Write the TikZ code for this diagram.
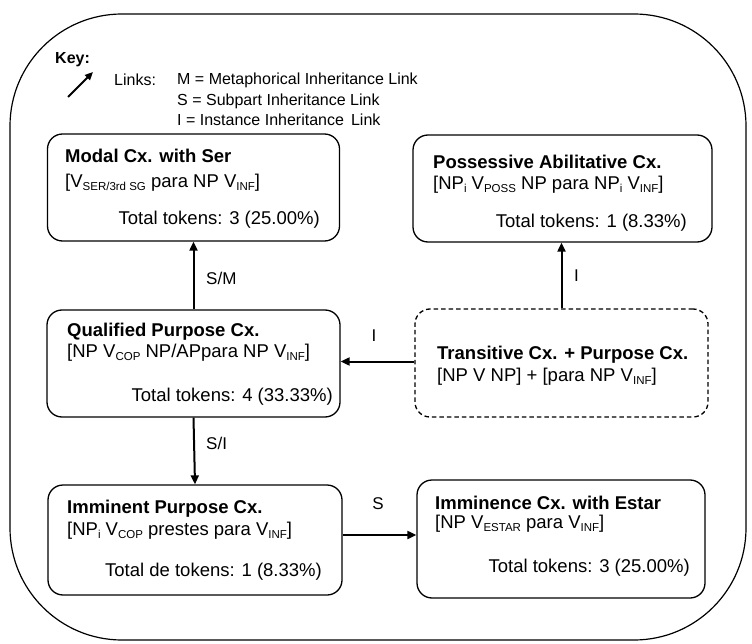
\documentclass[tikz,border=0pt]{standalone}
\usepackage{fontspec}
\setmainfont{Liberation Sans}
\usetikzlibrary{arrows.meta}
\newcommand\sbs[1]{\raisebox{-0.3ex}{\fontsize{11.5}{12}\selectfont #1}}
\begin{document}
\begin{tikzpicture}[x=1pt,y=-1pt,
  cxbox/.style={draw,line width=1.3pt,rounded corners=15pt,inner sep=0pt},
  txt/.style={inner sep=0pt,font=\fontsize{18.5}{22}\selectfont},
  ttl/.style={txt,font=\fontsize{18.5}{22}\selectfont\bfseries},
  keytxt/.style={inner sep=0pt,anchor=west,font=\fontsize{16}{19}\selectfont},
  lnk/.style={line width=2pt,-{Triangle[length=9pt,width=8pt]}},
  lbl/.style={inner sep=0pt,font=\fontsize{17}{20}\selectfont}]
\useasboundingbox (0,0) rectangle (752,644);

% outer frame
\draw[line width=1.2pt,rounded corners=112pt] (10,14) rectangle (746,640);

% key
\node[keytxt,font=\fontsize{16}{19}\selectfont\bfseries] (keyhead) at (55,60) {Key:};
\coordinate (keytail) at (68,97);
\coordinate (keytip) at (93,72);
\draw[line width=1.8pt,-{Triangle[length=8pt,width=7pt]}] (keytail) -- (keytip);
\node[keytxt] (keylinks) at (114,80) {Links:};
\node[keytxt] (keym) at (177,80) {M = Metaphorical Inheritance Link};
\node[keytxt] (keys) at (177,101) {S = Subpart Inheritance Link};
\node[keytxt] (keyi) at (177,120) {I = Instance Inheritance\, Link};

% construction boxes
\node[cxbox,minimum width=292pt,minimum height=107pt] (modal) at (193.5,187.5) {};
\node[cxbox,minimum width=299pt,minimum height=107pt] (poss) at (562.5,188.5) {};
\node[cxbox,minimum width=293pt,minimum height=107pt] (qual) at (193.5,363.5) {};
\node[cxbox,dash pattern=on 4.5pt off 3pt,minimum width=293pt,minimum height=108pt] (trans) at (561.5,363) {};
\node[cxbox,minimum width=294pt,minimum height=110pt] (immp) at (195,540) {};
\node[cxbox,minimum width=288pt,minimum height=118pt] (imme) at (561,539) {};

% box texts
\node[ttl,anchor=west] (modalT) at (65,156) {Modal Cx. with Ser};
\node[txt,anchor=west] (modalF) at (65,183) {[V\sbs{SER/3rd SG} para NP V\sbs{INF}]};
\node[txt,anchor=east] (modalN) at (320,220) {Total tokens: 3 (25.00\%)};

\node[ttl,anchor=west] (possT) at (433,162) {Possessive Abilitative Cx.};
\node[txt,anchor=west] (possF) at (433,185) {[NP\sbs{i} V\sbs{POSS} NP para NP\sbs{i} V\sbs{INF}]};
\node[txt,anchor=east] (possN) at (687,223) {Total tokens: 1 (8.33\%)};

\node[ttl,anchor=west] (qualT) at (67,332) {Qualified Purpose Cx.};
\node[txt,anchor=west] (qualF) at (67,353) {[NP V\sbs{COP} NP/APpara NP V\sbs{INF}]};
\node[txt,anchor=east] (qualN) at (333,397) {Total tokens: 4 (33.33\%)};

\node[ttl,anchor=west] (transT) at (437,355) {Transitive Cx. + Purpose Cx.};
\node[txt,anchor=west] (transF) at (437,377) {[NP V NP] + [para NP V\sbs{INF}]};

\node[ttl,anchor=west] (immpT) at (67,509) {Imminent Purpose Cx.};
\node[txt,anchor=west] (immpF) at (67,531) {[NP\sbs{i} V\sbs{COP} prestes para V\sbs{INF}]};
\node[txt,anchor=east] (immpN) at (322,572) {Total de tokens: 1 (8.33\%)};

\node[ttl,anchor=west] (immeT) at (435,503) {Imminence Cx. with Estar};
\node[txt,anchor=west] (immeF) at (435,524) {[NP V\sbs{ESTAR} para V\sbs{INF}]};
\node[txt,anchor=east] (immeN) at (690,568) {Total tokens: 3 (25.00\%)};

% inheritance links
\draw[lnk] (qual.north) -- (modal.south);
\node[lbl,anchor=west] (lSM) at (206,278) {S/M};
\draw[lnk] (trans.north) -- (trans.north |- poss.south);
\node[lbl,anchor=west] (lI1) at (574,276) {I};
\draw[lnk] ([yshift=1.5pt]trans.west) -- ([yshift=1.5pt]trans.west -| qual.east);
\node[lbl] (lI2) at (374,336) {I};
\draw[lnk] (qual.south) -- (immp.north);
\node[lbl,anchor=west] (lSI) at (206,443) {S/I};
\draw[lnk] ([yshift=5pt]immp.east) -- ([yshift=5pt]immp.east -| imme.west);
\node[lbl] (lS) at (378,504) {S};
\end{tikzpicture}
\end{document}
